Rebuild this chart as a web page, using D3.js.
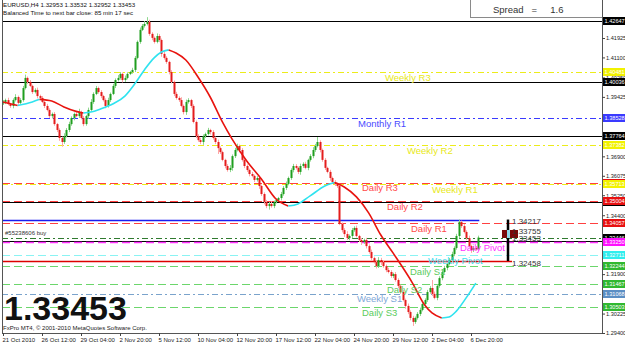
<!DOCTYPE html>
<html>
<head>
<meta charset="utf-8">
<script src="https://cdn.jsdelivr.net/npm/d3@7"></script>
<style>
  body { margin: 0; background: #fff; }
  svg { display: block; }
  text { font-family: "Liberation Sans", Arial, sans-serif; }
</style>
</head>
<body>
<svg id="chart" width="625" height="345"></svg>
<script>
// EURUSD H4 closes
const closes = [
  1.3921,1.3929,1.3912,1.3904,1.3929,1.3942,1.3917,1.3929,1.3980,1.4023,
  1.4006,1.3989,1.3963,1.3972,1.3946,1.3938,1.3921,1.3904,1.3887,1.3861,
  1.3870,1.3827,1.3802,1.3768,1.3751,1.3776,1.3802,1.3827,1.3853,1.3870,
  1.3861,1.3878,1.3853,1.3827,1.3861,1.3887,1.3921,1.3955,1.3980,1.3963,
  1.3946,1.3929,1.3904,1.3929,1.3955,1.3989,1.4014,1.4023,1.4040,1.4014,
  1.4023,1.4040,1.4048,1.4057,1.4108,1.4176,1.4227,1.4244,1.4252,1.4261,
  1.4210,1.4193,1.4176,1.4201,1.4184,1.4125,1.4108,1.4091,1.4048,1.4006,
  1.3955,1.3938,1.3929,1.3904,1.3878,1.3921,1.3929,1.3904,1.3836,1.3776,
  1.3759,1.3751,1.3776,1.3785,1.3802,1.3793,1.3768,1.3751,1.3725,1.3708,
  1.3675,1.3649,1.3632,1.3641,1.3691,1.3717,1.3734,1.3717,1.3675,1.3649,
  1.3632,1.3615,1.3607,1.3590,1.3598,1.3564,1.3530,1.3496,1.3479,1.3488,
  1.3479,1.3496,1.3505,1.3513,1.3530,1.3556,1.3573,1.3598,1.3632,1.3649,
  1.3641,1.3624,1.3649,1.3658,1.3641,1.3675,1.3691,1.3717,1.3734,1.3751,
  1.3717,1.3675,1.3641,1.3624,1.3598,1.3581,1.3573,1.3564,1.3403,1.3377,
  1.3360,1.3343,1.3352,1.3377,1.3386,1.3352,1.3335,1.3326,1.3335,1.3309,
  1.3284,1.3258,1.3241,1.3224,1.3250,1.3241,1.3224,1.3207,1.3199,1.3182,
  1.3190,1.3165,1.3140,1.3114,1.3080,1.3055,1.3029,1.3004,1.2987,1.3004,
  1.3021,1.3038,1.3063,1.3080,1.3114,1.3131,1.3106,1.3089,1.3140,1.3173,
  1.3199,1.3216,1.3233,1.3250,1.3275,1.3301,1.3352,1.3411,1.3394,1.3369,
  1.3343,1.3309,1.3292,1.3301,1.32953,1.33453
];
const firstOpen = 1.3915;

// wick lengths above / below the body, in pips
const wickUp = [
  8,6,10,5,7,12,6,8,9,14, 6,8,5,7,10,6,8,5,9,7,
  6,8,5,7,6,12,8,10,7,6, 9,14,6,8,5,10,12,7,9,6,
  8,5,7,10,6,9,7,12,8,6, 10,7,5,9,8,6,10,8,12,20,
  9,7,6,11,8,6,10,7,5,8, 6,9,7,12,6,10,8,5,7,6,
  8,10,7,6,9,5,8,6,10,7, 6,5,8,12,7,9,10,6,8,5,
  7,6,9,5,8,10,6,7,9,8, 12,6,7,5,9,8,10,6,7,9,
  8,6,10,7,9,5,8,12,9,21, 7,6,8,5,9,6,8,7,10,6,
  8,12,6,9,7,10,5,8,6,9, 7,10,6,8,12,9,6,7,10,8,
  6,9,7,5,8,6,10,7,9,6, 8,10,12,7,9,8,34,10,6,8,
  7,9,6,8,10,7,9,11,6,8, 7,10,6,9,8,8
];
const wickDown = [
  7,9,5,8,10,6,8,5,7,6, 9,5,8,6,10,7,5,9,6,8,
  10,7,9,12,20,8,6,9,7,10, 5,8,6,9,7,12,6,8,5,7,
  9,6,10,7,8,5,9,6,7,10, 8,6,5,7,9,6,8,5,7,6,
  8,10,7,6,9,12,7,8,10,6, 9,7,8,6,10,12,7,9,6,8,
  7,9,12,8,6,10,7,9,25,8, 6,10,7,9,12,8,6,10,7,9,
  8,10,6,9,7,12,8,10,9,15, 7,9,6,8,10,7,9,6,8,10,
  7,9,12,8,6,10,7,9,8,6, 10,8,9,6,12,7,9,8,5,10,
  12,8,9,10,7,6,9,12,8,10, 7,9,6,10,8,12,7,9,6,8,
  9,7,10,8,6,12,9,10,17,8, 7,9,6,10,8,7,9,6,10,8,
  9,7,10,6,8,9,7,10,8,6, 9,7,12,8,6,0
];

// moving average, sampled at a few bars
const maBars = [0,6,12,15,20,25,30,33,36,40,45,50,54,58,62,65,68,71,75,80,85,90,94,100,106,112,117,121,126,132,136,140,145,150,155,160,168,173,176,180,183,186,190,194];
const maValues = [1.3921,1.3906,1.3921,1.3932,1.3925,1.3900,1.3881,1.3874,1.3878,1.3891,1.3912,1.3946,1.3997,1.4057,1.4108,1.4133,1.4142,1.4129,1.4099,1.4027,1.3942,1.3836,1.3763,1.3670,1.3594,1.3509,1.3479,1.3488,1.3522,1.3564,1.3579,1.3560,1.3518,1.3450,1.3356,1.3280,1.3152,1.3059,1.3025,1.3004,1.3008,1.3033,1.3089,1.3152];

const timeBars = [0,16,32,48,64,80,96,112,128,144,160,176,192];
const timeLabels = ["21 Oct 2010","26 Oct 12:00","29 Oct 04:00","2 Nov 20:00","5 Nov 12:00","10 Nov 04:00","12 Nov 20:00","17 Nov 12:00","22 Nov 04:00","24 Nov 20:00","29 Nov 12:00","2 Dec 04:00","6 Dec 20:00"];
const priceTicks = [1.41925,1.41100,1.40250,1.39425,1.38575,1.37750,1.36900,1.36075,1.35250,1.34400,1.33575,1.32750,1.31900,1.31075,1.30225,1.29400];

// horizontal levels
const levelNames  = ["", "Weekly R3", "", "Monthly R1", "", "Weekly R2", "Daily R3", "Weekly R1", "", "Daily R2", "Daily R1", "#55238606 buy", "", "Daily Pivot", "Weekly Pivot", "Daily S1", "Daily S2", "Weekly S1", "Daily S3"];
const levelPrices = [1.42647, 1.40481, 1.40036, 1.38528, 1.37764, 1.37382, 1.35781, 1.35713, 1.34974, 1.35004, 1.34057, 1.33446, 1.33305, 1.33250, 1.32711, 1.32244, 1.31467, 1.31068, 1.30503];
const levelKinds  = ["black", "weeklyR", "black", "monthly", "black", "weeklyR", "dailyR", "weeklyR", "black", "dailyR", "dailyR", "order", "black", "dailyP", "weeklyP", "dailyS", "dailyS", "weeklyS", "dailyS"];

const rangeHigh = 1.34217, rangeLow = 1.32458, entryPrice = 1.33755, lastPrice = 1.33453;
const header = "EURUSD,H4  1.32953 1.33532 1.32952 1.33453";
const timerText = "Balanced Time to next bar close: 85 min 17 sec";
const spreadText = "Spread   =     1.6";

// ---- styles / layout ----
const kindStyle = {
  black:   { stroke: "#000000", dash: null,      w: 1.2, box: "#000000" },
  weeklyR: { stroke: "#ecec1a", dash: "6,3,2,3", w: 1,   box: "#f2f200", font: "#e8e820" },
  monthly: { stroke: "#3a3aff", dash: "6,3,2,3", w: 1,   box: "#3a3aff", font: "#4a4aff" },
  dailyR:  { stroke: "#ff4040", dash: "8,4",     w: 1,   box: "#e81010", font: "#ff4a4a" },
  order:   { stroke: "#2f7a2f", dash: "6,3,2,3", w: 1,   box: "#000000", font: "#333333" },
  dailyP:  { stroke: "#ff30ff", dash: "8,4",     w: 1.6, box: "#ff10ff", font: "#ff33ff" },
  weeklyP: { stroke: "#8af3f3", dash: "8,4",     w: 1.2, box: "#30eeee", font: "#40dcee" },
  dailyS:  { stroke: "#6cd66c", dash: "8,4",     w: 1,   box: "#30b830", font: "#5ccc5c" },
  weeklyS: { stroke: "#7aa3cc", dash: "6,3,2,3", w: 1,   box: "#5b8ec4", font: "#7ea8d8" }
};
const labelX = {
  "Weekly R3": 385, "Monthly R1": 358, "Weekly R2": 407, "Daily R3": 362, "Weekly R1": 432,
  "Daily R2": 387, "Daily R1": 411, "Daily Pivot": 460, "Weekly Pivot": 428,
  "Daily S1": 410, "Daily S2": 387, "Weekly S1": 357, "Daily S3": 362
};

const plot = { left: 2, right: 602, top: 0, bottom: 333 };
const svg = d3.select("#chart");
const y = d3.scaleLinear().domain([1.29400, 1.41925]).range([333, 38]);
const x = d3.scaleLinear().domain([0, 192]).range([3, 471]);

svg.append("defs").append("clipPath").attr("id", "clip")
  .append("rect").attr("x", plot.left).attr("y", plot.top)
  .attr("width", plot.right - plot.left).attr("height", plot.bottom - plot.top);

const g = svg.append("g").attr("clip-path", "url(#clip)");

// levels
levelPrices.forEach((p, i) => {
  const st = kindStyle[levelKinds[i]];
  g.append("line")
    .attr("x1", plot.left).attr("x2", plot.right)
    .attr("y1", Math.round(y(p)) + 0.5).attr("y2", Math.round(y(p)) + 0.5)
    .attr("stroke", st.stroke).attr("stroke-width", st.w)
    .attr("stroke-dasharray", st.dash);
});

// range high / low lines
g.append("line").attr("x1", plot.left).attr("x2", x(195) + 1)
  .attr("y1", Math.round(y(rangeHigh)) + 0.5).attr("y2", Math.round(y(rangeHigh)) + 0.5)
  .attr("stroke", "#1a1aee").attr("stroke-width", 1.3);
g.append("line").attr("x1", plot.left).attr("x2", 512)
  .attr("y1", Math.round(y(rangeLow)) + 0.5).attr("y2", Math.round(y(rangeLow)) + 0.5)
  .attr("stroke", "#dd0000").attr("stroke-width", 1.3);

// candles
const bars = closes.map((c, i) => {
  const o = i === 0 ? firstOpen : closes[i - 1];
  return {
    i, o, c,
    h: Math.max(o, c) + wickUp[i] / 10000,
    l: Math.min(o, c) - wickDown[i] / 10000
  };
});

const candle = g.append("g").selectAll("g").data(bars).join("g");
candle.append("line")
  .attr("x1", d => Math.round(x(d.i)) + 0.5).attr("x2", d => Math.round(x(d.i)) + 0.5)
  .attr("y1", d => y(d.h)).attr("y2", d => y(d.l))
  .attr("stroke", d => d.c >= d.o ? "#8fd88f" : "#ffa6a6").attr("stroke-width", 1);
candle.append("rect")
  .attr("x", d => Math.round(x(d.i)) - 0.5).attr("width", 2)
  .attr("y", d => y(Math.max(d.o, d.c)))
  .attr("height", d => Math.max(1, Math.abs(y(d.o) - y(d.c))))
  .attr("fill", d => d.c >= d.o ? "#1f9e1f" : "#e41c1c");

// moving average, red when falling, cyan when rising
const maPts = maBars.map((b, i) => [x(b), y(maValues[i])]);
const runs = [];
for (let i = 1; i < maPts.length; i++) {
  const up = maValues[i] > maValues[i - 1];
  const last = runs[runs.length - 1];
  if (last && last.up === up) last.pts.push(maPts[i]);
  else runs.push({ up, pts: [maPts[i - 1], maPts[i]] });
}
const maLine = d3.line().curve(d3.curveMonotoneX);
runs.forEach(r => {
  g.append("path").attr("d", maLine(r.pts)).attr("fill", "none")
    .attr("stroke", r.up ? "#2fe3ef" : "#e8140f").attr("stroke-width", 1.6);
});

// level captions
levelNames.forEach((n, i) => {
  if (!n || !(n in labelX)) return;
  const st = kindStyle[levelKinds[i]];
  g.append("text").attr("x", labelX[n]).attr("y", y(levelPrices[i]) + 8.5)
    .attr("font-size", 9.5).attr("fill", st.font).text(n);
});
g.append("text").attr("x", 5).attr("y", y(levelPrices[11]) - 3)
  .attr("font-size", 6).attr("fill", "#333").text(levelNames[11]);

// last bar range marker
const mx = 508;
g.append("line").attr("x1", mx).attr("x2", mx)
  .attr("y1", y(rangeHigh)).attr("y2", y(rangeLow))
  .attr("stroke", "#000").attr("stroke-width", 2.5);
const midY = (y(entryPrice) + y(lastPrice)) / 2;
g.append("rect").attr("x", 502).attr("y", midY - 4).attr("width", 16).attr("height", 8).attr("fill", "#7a0a0a");
g.append("rect").attr("x", 507).attr("y", midY - 4).attr("width", 3).attr("height", 8).attr("fill", "#8fd8e8");
[[rangeHigh, 4], [entryPrice, 3.5], [lastPrice, 3.5], [rangeLow, 5]].forEach(([p, dy]) => {
  g.append("text").attr("x", 512).attr("y", y(p) + dy)
    .attr("font-size", 8).attr("fill", "#333").text(p.toFixed(5));
});

// big price
g.append("text").attr("x", 4).attr("y", 320)
  .attr("font-size", 34).attr("font-weight", "bold").attr("fill", "#111")
  .text(lastPrice.toFixed(5));
g.append("text").attr("x", 3).attr("y", 330).attr("font-size", 6).attr("fill", "#222")
  .text("FxPro MT4, \u00a9 2001-2010 MetaQuotes Software Corp.");

// header texts
svg.append("text").attr("x", 3).attr("y", 7).attr("font-size", 6.2).attr("fill", "#111").text(header);
svg.append("text").attr("x", 3).attr("y", 15).attr("font-size", 6.2).attr("fill", "#111").text(timerText);

// spread box
svg.append("rect").attr("x", 470.5).attr("y", -1).attr("width", 132).attr("height", 18.5)
  .attr("fill", "#fff").attr("stroke", "#8a8a8a");
svg.append("text").attr("x", 493).attr("y", 12.5)
  .attr("font-family", "'Liberation Mono', 'Courier New', monospace")
  .attr("font-size", 9.5).attr("fill", "#333").style("white-space", "pre")
  .text(spreadText);

// frame
svg.append("line").attr("x1", plot.left + 0.5).attr("x2", plot.left + 0.5).attr("y1", 0).attr("y2", plot.bottom)
  .attr("stroke", "#555");
svg.append("line").attr("x1", plot.left).attr("x2", plot.right).attr("y1", plot.bottom + 0.5).attr("y2", plot.bottom + 0.5)
  .attr("stroke", "#555");
svg.append("line").attr("x1", plot.right + 0.5).attr("x2", plot.right + 0.5).attr("y1", 0).attr("y2", plot.bottom)
  .attr("stroke", "#555");

// price axis: ticks hidden under a price tag are left out
const tagYs = levelPrices.filter((p, i) => i !== 12).map(p => y(p));
const visibleTicks = priceTicks.filter(t => tagYs.every(ty => Math.abs(y(t) - ty) > 4.5));
const yAxis = svg.append("g").attr("transform", `translate(${plot.right},0)`)
  .call(d3.axisRight(y).tickValues(visibleTicks).tickFormat(d3.format(".5f")).tickSize(3).tickPadding(1));
yAxis.select(".domain").remove();
yAxis.selectAll("text").attr("font-size", 5.6).attr("fill", "#222").attr("font-family", "'Liberation Sans', Arial, sans-serif");
yAxis.selectAll("line").attr("stroke", "#444");

// coloured price tags
const tagOrder = d3.range(levelPrices.length).sort((a, b) => (levelKinds[a] === "black" ? 0 : 1) - (levelKinds[b] === "black" ? 0 : 1));
tagOrder.forEach(i => {
  if (i === 12) return;
  const st = kindStyle[levelKinds[i]];
  const py = Math.round(y(levelPrices[i]));
  svg.append("rect").attr("x", plot.right + 1).attr("y", py - 4).attr("width", 23).attr("height", 8).attr("fill", st.box);
  svg.append("text").attr("x", plot.right + 2.5).attr("y", py + 2.2).attr("font-size", 5.6)
    .attr("fill", "#fff").text(levelPrices[i].toFixed(5));
});

// time axis
const xAxis = svg.append("g").attr("transform", `translate(0,${plot.bottom})`)
  .call(d3.axisBottom(x).tickValues(timeBars).tickFormat((d, i) => timeLabels[i]).tickSize(3).tickPadding(2));
xAxis.select(".domain").remove();
xAxis.selectAll("text").attr("font-size", 6).attr("fill", "#222").attr("text-anchor", "start")
  .attr("dx", -1).attr("font-family", "'Liberation Sans', Arial, sans-serif");
xAxis.selectAll("line").attr("stroke", "#444");
</script>
</body>
</html>
